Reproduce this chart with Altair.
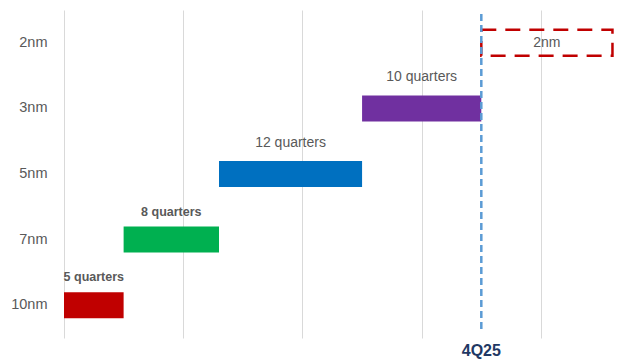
import altair as alt
import pandas as pd

nodes = ["2nm", "3nm", "5nm", "7nm", "10nm"]
starts = [35, 25, 13, 5, 0]          # quarter index at bar start
durations = [11, 10, 12, 8, 5]       # quarters
labels = ["2nm", "10 quarters", "12 quarters", "8 quarters", "5 quarters"]
colors = ["#C00000", "#7030A0", "#0070C0", "#00B050", "#C00000"]
bold = [False, False, False, True, True]
marker_q = 35
marker_label = "4Q25"
grid_ticks = [0, 10, 20, 30, 40]

df = pd.DataFrame({
    "node": nodes,
    "start": starts,
    "end": [s + d for s, d in zip(starts, durations)],
    "label": labels,
    "color": colors,
    "bold": bold,
})
df["mid"] = (df["start"] + df["end"]) / 2

xscale = alt.Scale(domain=[0, 46.8], nice=False, zero=False)
xaxis = alt.Axis(values=grid_ticks, labels=False, ticks=False, domain=False,
                 grid=True, gridColor="#D9D9D9", gridWidth=1, title=None)
yaxis = alt.Axis(title=None, ticks=False, domain=False, labelFontSize=14.5,
                 labelColor="#595959", labelPadding=17, labelFont="Liberation Sans",
                 grid=False)
yenc = alt.Y("node:N", sort=nodes, axis=yaxis, scale=alt.Scale(paddingInner=0, paddingOuter=0))

base = alt.Chart(df)

bars = base.transform_filter(alt.datum.node != "2nm").mark_bar(size=26).encode(
    x=alt.X("start:Q", scale=xscale, axis=xaxis),
    x2="end:Q",
    y=yenc,
    color=alt.Color("color:N", scale=None),
)

future = base.transform_filter(alt.datum.node == "2nm").mark_bar(
    size=26, filled=False, stroke="#C00000", strokeWidth=2.5, strokeDash=[15, 9]
).encode(x=alt.X("start:Q", scale=xscale, axis=xaxis), x2="end:Q", y=yenc)

future_text = base.transform_filter(alt.datum.node == "2nm").mark_text(
    fontSize=14, color="#595959", font="Liberation Sans"
).encode(x=alt.X("mid:Q", scale=xscale), y=yenc, text="label:N")

lbl_bold = base.transform_filter("datum.bold").mark_text(
    fontSize=12.5, fontWeight="bold", color="#595959", font="Liberation Sans", dy=-28
).encode(x=alt.X("mid:Q", scale=xscale), y=yenc, text="label:N")

lbl_reg = base.transform_filter("!datum.bold && datum.node != '2nm'").mark_text(
    fontSize=14, color="#595959", font="Liberation Sans", dy=-31
).encode(x=alt.X("mid:Q", scale=xscale), y=yenc, text="label:N")

mdf = pd.DataFrame({"q": [marker_q], "label": [marker_label]})
rule = alt.Chart(mdf).mark_rule(color="#5B9BD5", strokeWidth=2.5, strokeDash=[7, 4]).encode(
    x=alt.X("q:Q", scale=xscale), y=alt.value(4), y2=alt.value(322)
)
mtext = alt.Chart(mdf).mark_text(
    fontSize=16, fontWeight="bold", color="#1F3864", font="Liberation Sans", baseline="middle"
).encode(x=alt.X("q:Q", scale=xscale), y=alt.value(341), text="label:N")

chart = alt.layer(bars, future, future_text, lbl_bold, lbl_reg, rule, mtext).properties(
    width=558, height=328,
    padding={"left": 64, "top": 10, "right": 0, "bottom": 23},
    autosize=alt.AutoSizeParams(type="none"),
    background="white",
).configure_view(stroke=None)

chart.save("out.html", embed_options={"renderer": "svg", "actions": False})
